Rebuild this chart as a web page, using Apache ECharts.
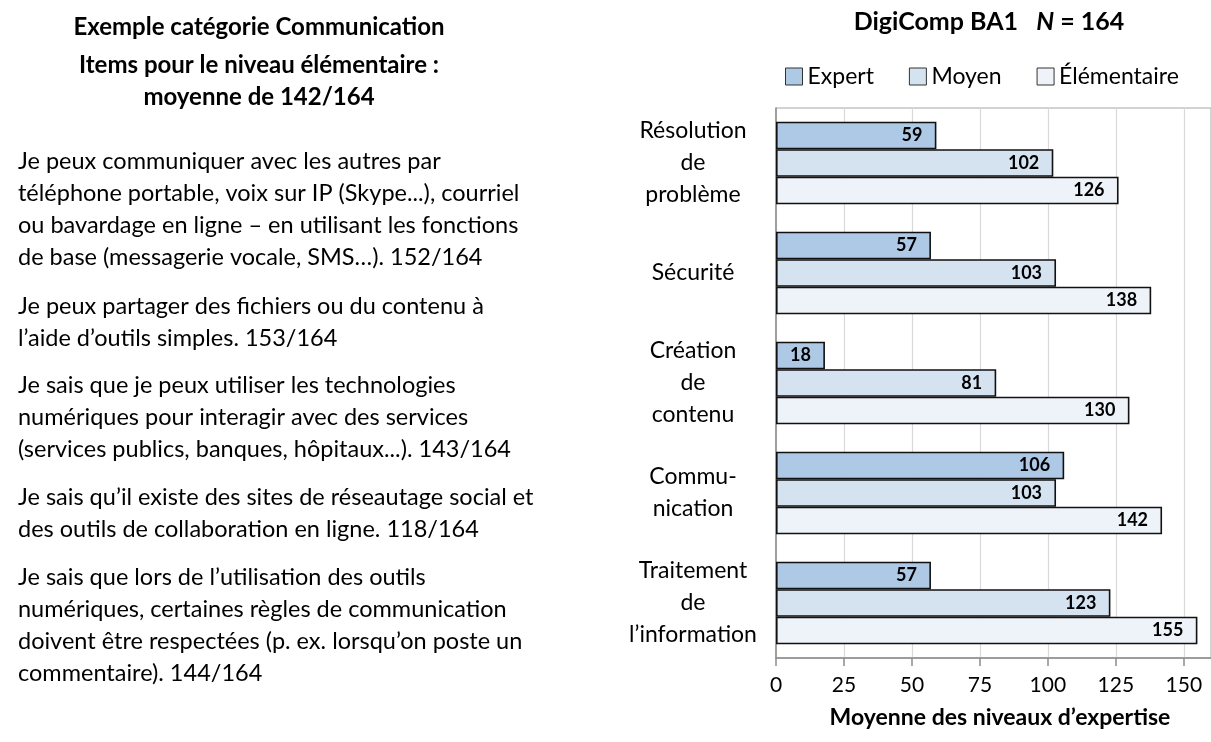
<!DOCTYPE html>
<html>
<head>
<meta charset="utf-8">
<script src="https://cdn.jsdelivr.net/npm/echarts@6/dist/echarts.min.js"></script>
<style>
  html, body { margin: 0; padding: 0; background: #fff; }
  #chart { width: 1211px; height: 742px; }
</style>
</head>
<body>
<div id="chart"></div>
<script>
const categories = [
  'Résolution\nde\nproblème',
  'Sécurité',
  'Création\nde\ncontenu',
  'Commu-\nnication',
  'Traitement\nde\nl\u2019information'
];
const seriesNames = ['Expert', 'Moyen', 'Élémentaire'];
const expert = [59, 57, 18, 106, 57];
const moyen = [102, 103, 81, 103, 123];
const elementaire = [126, 138, 130, 142, 155];
const xTicks = [0, 25, 50, 75, 100, 125, 150];

const headLines = [
  'Exemple catégorie Communication',
  'Items pour le niveau élémentaire :',
  'moyenne de 142/164'
];
const paragraphs = [
  'Je peux communiquer avec les autres par\ntéléphone portable, voix sur IP (Skype...), courriel\nou bavardage en ligne \u2013 en utilisant les fonctions\nde base (messagerie vocale, SMS\u2026). 152/164',
  'Je peux partager des fichiers ou du contenu à\nl\u2019aide d\u2019outils simples. 153/164',
  'Je sais que je peux utiliser les technologies\nnumériques pour interagir avec des services\n(services publics, banques, hôpitaux...). 143/164',
  'Je sais qu\u2019il existe des sites de réseautage social et\ndes outils de collaboration en ligne. 118/164',
  'Je sais que lors de l\u2019utilisation des outils\nnumériques, certaines règles de communication\ndoivent être respectées (p. ex. lorsqu\u2019on poste un\ncommentaire). 144/164'
];

const FONT = 'Lato, "Noto Sans", sans-serif';
const colors = ['#adc9e6', '#d5e3f1', '#eef3f9'];
const headY = [27, 65, 97];
const paraTops = [145, 290, 369, 481, 561];

const chart = echarts.init(document.getElementById('chart'), null, { renderer: 'canvas' });

const graphics = [];
headLines.forEach((t, i) => graphics.push({
  type: 'text', x: 259, y: headY[i],
  style: { text: t, textAlign: 'center', textVerticalAlign: 'middle',
           font: 'bold 24px ' + FONT, fill: '#000' }
}));
paragraphs.forEach((t, i) => graphics.push({
  type: 'text', left: 18, top: paraTops[i],
  style: { text: t, font: '23.5px ' + FONT, fill: '#000', lineHeight: 32 }
}));
graphics.push({
  type: 'text', x: 1000, y: 718,
  style: { text: 'Moyenne des niveaux d\u2019expertise', textAlign: 'center', textVerticalAlign: 'middle',
           font: 'bold 23px ' + FONT, fill: '#000' }
});
graphics.push({
  type: 'text', x: 989, y: 22,
  style: {
    text: '{b|DigiComp BA1   }{i|N}{b| = 164}', textAlign: 'center', textVerticalAlign: 'middle',
    rich: {
      b: { fontWeight: 'bold', fontSize: 25, fontFamily: FONT, fill: '#000' },
      i: { fontWeight: 'bold', fontStyle: 'italic', fontSize: 25, fontFamily: FONT, fill: '#000' }
    }
  }
});

const mkSeries = (name, data, i) => ({
  name: name,
  type: 'bar',
  data: data,
  barWidth: 27.5,
  barGap: '0%',
  itemStyle: { color: colors[i], borderColor: '#111', borderWidth: 1.6 },
  label: {
    show: true, position: 'insideRight', distance: 14,
    color: '#000', fontWeight: 'bold', fontSize: 18, fontFamily: FONT
  }
});

chart.setOption({
  animation: false,
  legend: {
    data: seriesNames,
    left: 780, top: 60,
    itemWidth: 17, itemHeight: 17, itemGap: 35,
    icon: 'rect',
    itemStyle: { borderWidth: 1, borderColor: '#333' },
    textStyle: { fontSize: 23, fontFamily: FONT, color: '#000' }
  },
  grid: {
    left: 776, right: -2, top: 108, bottom: 84,
    show: true, borderColor: '#a6a6a6', borderWidth: 1
  },
  xAxis: {
    type: 'value', min: 0, max: 160, interval: 25,
    axisLine: { show: true, lineStyle: { color: '#8c8c8c', width: 1.5 } },
    axisTick: { show: true, length: 8, lineStyle: { color: '#8c8c8c', width: 1.5 } },
    splitLine: { show: true, lineStyle: { color: '#d9d9d9', width: 1.2 } },
    axisLabel: {
      showMaxLabel: false, margin: 17, fontSize: 21, fontFamily: FONT, color: '#000',
      formatter: v => xTicks.includes(v) ? String(v) : ''
    }
  },
  yAxis: {
    type: 'category', data: categories, inverse: true,
    axisLine: { show: true, lineStyle: { color: '#8c8c8c', width: 1.5 } },
    axisTick: { show: false },
    axisLabel: {
      margin: 83, align: 'center', lineHeight: 32,
      fontSize: 23, fontFamily: FONT, color: '#000'
    }
  },
  graphic: graphics,
  series: [
    mkSeries(seriesNames[0], expert, 0),
    mkSeries(seriesNames[1], moyen, 1),
    mkSeries(seriesNames[2], elementaire, 2)
  ]
});
</script>
</body>
</html>
